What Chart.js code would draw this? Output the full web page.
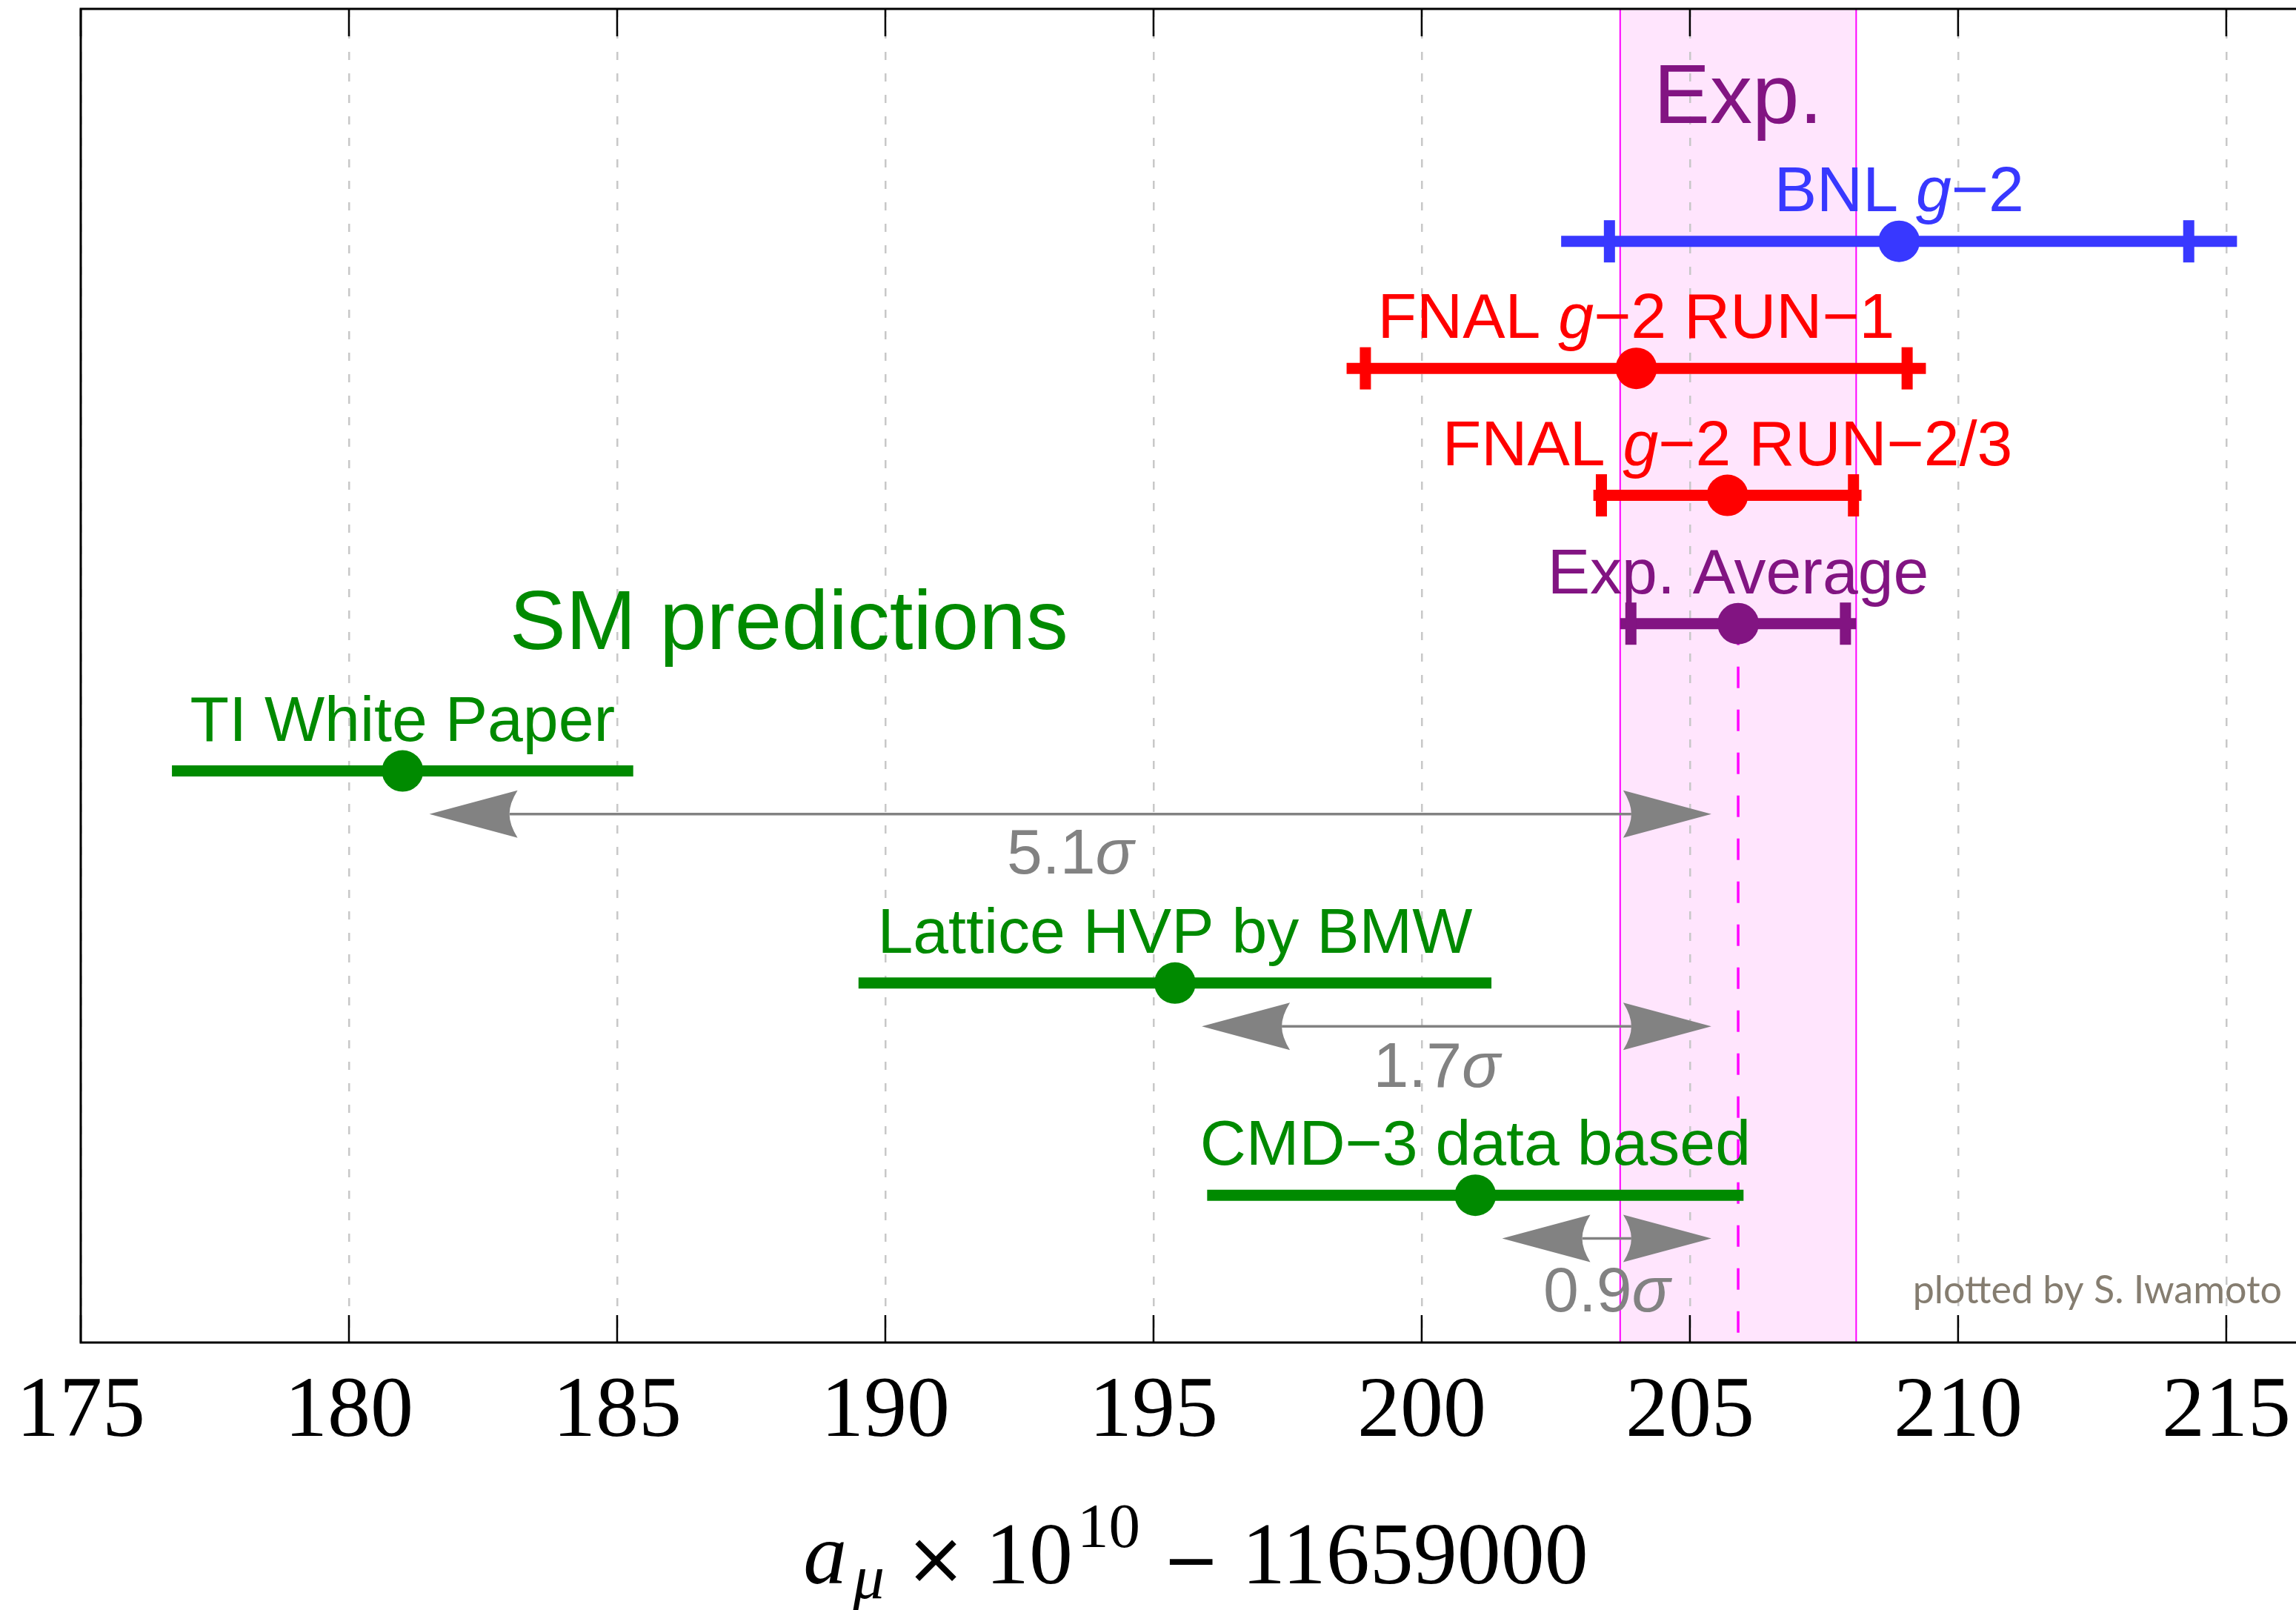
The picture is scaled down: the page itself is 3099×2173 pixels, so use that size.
<!DOCTYPE html>
<html>
<head>
<meta charset="utf-8">
<title>Muon g-2: experiments vs SM predictions</title>
<script src="https://cdn.jsdelivr.net/npm/chart.js@4.4.1/dist/chart.umd.min.js"></script>
<style>
  html, body { margin: 0; padding: 0; background: #fff; }
  #wrap { width: 3099px; height: 2173px; position: relative; }
</style>
</head>
<body>
<div id="wrap"><canvas id="g2Chart"></canvas></div>
<script>
// x axis ticks (a_mu x 10^10 - 11659000)
const xTicks = [175, 180, 185, 190, 195, 200, 205, 210, 215];

// experiments: central value, total error (bar), statistical error (caps)
const expNames = ['BNL g−2', 'FNAL g−2 RUN−1', 'FNAL g−2 RUN−2/3', 'Exp. Average'];
const expValues = [208.9, 204.0, 205.7, 205.9];
const expErrors = [6.3, 5.4, 2.5, 2.2];
const expStatErrors = [5.4, 5.05, 2.35, 2.0];
const expRows = [8.67, 7.67, 6.67, 5.66];

// SM predictions
const smNames = ['TI White Paper', 'Lattice HVP by BMW', 'CMD−3 data based'];
const smValues = [181.0, 195.4, 201.0];
const smErrors = [4.3, 5.9, 5.0];
const smRows = [4.5, 2.83, 1.16];

// tension of each prediction with the exp. average
const tensionLabels = ['5.1σ', '1.7σ', '0.9σ'];

const expColors = ['#3838ff', '#ff0000', '#ff0000', '#821482'];
const smColor = '#008a00';
const greyArrow = '#828282';
const SANS = '"Liberation Sans", Arial, sans-serif';
const SERIF = '"Liberation Serif", "Times New Roman", serif';

const avgValue = expValues[3];
const avgError = expErrors[3];

/**
 * Build datasets: dots, caps, bars and the dashed average line
 */
const datasets = [];

datasets.push({
    data: expValues.map((v, i) => ({ x: v, y: expRows[i] }))
        .concat(smValues.map((v, i) => ({ x: v, y: smRows[i] }))),
    pointRadius: 28,
    pointBorderWidth: 0,
    pointBackgroundColor: expColors.concat(smValues.map(() => smColor)),
    showLine: false,
    order: 0
});

datasets.push({
    data: expValues.flatMap((v, i) => [
        { x: v - expStatErrors[i], y: expRows[i] },
        { x: v + expStatErrors[i], y: expRows[i] }
    ]),
    pointStyle: 'line',
    pointRotation: 90,
    pointRadius: 28.5,
    pointBorderWidth: 15,
    pointBorderColor: expColors.flatMap(c => [c, c]),
    showLine: false,
    order: 1
});

expValues.forEach((v, i) => {
    datasets.push({
        data: [{ x: v - expErrors[i], y: expRows[i] }, { x: v + expErrors[i], y: expRows[i] }],
        showLine: true,
        borderColor: expColors[i],
        borderWidth: 15,
        pointRadius: 0,
        order: 2
    });
});

smValues.forEach((v, i) => {
    datasets.push({
        data: [{ x: v - smErrors[i], y: smRows[i] }, { x: v + smErrors[i], y: smRows[i] }],
        showLine: true,
        borderColor: smColor,
        borderWidth: 15,
        pointRadius: 0,
        order: 2
    });
});

datasets.push({
    data: [{ x: avgValue, y: expRows[3] }, { x: avgValue, y: 0 }],
    showLine: true,
    borderColor: '#ff00ff',
    borderWidth: 3.5,
    borderDash: [29, 29],
    pointRadius: 0,
    order: 3
});

/**
 * Helpers for text with italic / sub / superscript pieces
 */
function toParts(label) {
    return label.split(/(g(?=−)|σ)/).filter(Boolean)
        .map(s => ({ text: s, italic: s === 'g' || s === 'σ' }));
}

function richText(ctx, parts, cx, baseY, size, family, color, align) {
    ctx.save();
    ctx.fillStyle = color;
    ctx.textBaseline = 'alphabetic';
    ctx.textAlign = 'left';
    const fonts = parts.map(p => (p.italic ? 'italic ' : '') + (p.size || size) + 'px ' + (p.family || family));
    let total = 0;
    const widths = parts.map((p, i) => {
        ctx.font = fonts[i];
        const w = ctx.measureText(p.text).width + (p.gap || 0);
        total += w;
        return w;
    });
    let x = align === 'right' ? cx - total : cx - total / 2;
    parts.forEach((p, i) => {
        ctx.font = fonts[i];
        ctx.fillText(p.text, x + (p.gap || 0), baseY + (p.dy || 0));
        x += widths[i];
    });
    ctx.restore();
}

function arrowHead(ctx, tipX, y, dir) {
    // dir = -1 points left, +1 points right
    const len = 119, half = 32, notch = 108;
    const bx = tipX - dir * len;
    const nx = tipX - dir * notch;
    ctx.beginPath();
    ctx.moveTo(tipX, y);
    ctx.lineTo(bx, y - half);
    ctx.quadraticCurveTo(nx, y - half * 0.45, nx, y);
    ctx.quadraticCurveTo(nx, y + half * 0.45, bx, y + half);
    ctx.closePath();
    ctx.fill();
    return nx;
}

const overlayPlugin = {
    id: 'g2Overlay',
    beforeDraw(chart) {
        const { ctx, chartArea: a, scales: { x } } = chart;
        const lo = x.getPixelForValue(avgValue - avgError);
        const hi = x.getPixelForValue(avgValue + avgError);
        ctx.save();
        ctx.fillStyle = '#ffe5fd';
        ctx.fillRect(lo, a.top, hi - lo, a.bottom - a.top);
        ctx.strokeStyle = '#ff00ff';
        ctx.lineWidth = 2;
        ctx.beginPath();
        ctx.moveTo(lo, a.top); ctx.lineTo(lo, a.bottom);
        ctx.moveTo(hi, a.top); ctx.lineTo(hi, a.bottom);
        ctx.stroke();
        ctx.restore();
    },
    afterDatasetsDraw(chart) {
        const { ctx, scales: { x, y } } = chart;

        // tension arrows
        const labelDrop = [80, 82, 99];
        const labelShift = [0, -0.37, 0];
        smValues.forEach((v, i) => {
            const from = v + 0.5;
            const to = avgValue - 0.5;
            const py = y.getPixelForValue(smRows[i] - 0.34);
            const x1 = x.getPixelForValue(from);
            const x2 = x.getPixelForValue(to);
            ctx.save();
            ctx.fillStyle = greyArrow;
            const n1 = arrowHead(ctx, x1, py, -1);
            const n2 = arrowHead(ctx, x2, py, 1);
            ctx.strokeStyle = greyArrow;
            ctx.lineWidth = 3.5;
            ctx.beginPath();
            ctx.moveTo(n1, py);
            ctx.lineTo(n2, py);
            ctx.stroke();
            ctx.restore();
            richText(ctx, toParts(tensionLabels[i]), x.getPixelForValue((from + to) / 2 + labelShift[i]),
                py + labelDrop[i], 86, SANS, greyArrow);
        });

        // row labels
        expNames.forEach((name, i) => {
            richText(ctx, toParts(name), x.getPixelForValue(expValues[i]),
                y.getPixelForValue(expRows[i]) - 41, 86, SANS, expColors[i]);
        });
        smNames.forEach((name, i) => {
            richText(ctx, toParts(name), x.getPixelForValue(smValues[i]),
                y.getPixelForValue(smRows[i]) - 41, 86, SANS, smColor);
        });

        // group headings
        richText(ctx, [{ text: 'Exp.' }], x.getPixelForValue(avgValue), y.getPixelForValue(9.6),
            114, SANS, expColors[3]);
        richText(ctx, [{ text: 'SM predictions' }], x.getPixelForValue(188.2), y.getPixelForValue(5.46),
            114, SANS, smColor);
    },
    afterDraw(chart) {
        const { ctx, chartArea: a, scales: { x } } = chart;
        ctx.save();
        // frame (right edge falls outside the picture)
        ctx.strokeStyle = '#000';
        ctx.lineWidth = 3;
        ctx.beginPath();
        ctx.moveTo(a.right + 5, a.top);
        ctx.lineTo(a.left, a.top);
        ctx.lineTo(a.left, a.bottom);
        ctx.lineTo(a.right + 5, a.bottom);
        ctx.stroke();
        // inward ticks, top and bottom
        ctx.lineWidth = 2.5;
        ctx.beginPath();
        xTicks.forEach(v => {
            const px = x.getPixelForValue(v);
            ctx.moveTo(px, a.bottom); ctx.lineTo(px, a.bottom - 37);
            ctx.moveTo(px, a.top); ctx.lineTo(px, a.top + 37);
        });
        ctx.stroke();
        ctx.restore();

        // axis title
        const OPS = '"DejaVu Sans", sans-serif';
        richText(ctx, [
            { text: 'a', italic: true },
            { text: 'μ', italic: true, size: 85, dy: 20, gap: 8 },
            { text: '×', family: OPS, size: 98, gap: 28 },
            { text: '10', gap: 26 },
            { text: '10', size: 85, dy: -49, gap: 6 },
            { text: '−', family: OPS, size: 92, gap: 30 },
            { text: '11659000', gap: 30 }
        ], (a.left + a.right) / 2 + 10, a.bottom + 325, 118, SERIF, '#000');

        // credit
        richText(ctx, [{ text: 'plotted by S. Iwamoto' }], a.right - 19, a.bottom - 53,
            52, 'Lato, "Open Sans", sans-serif', '#857d70', 'right');
    }
};

new Chart(document.getElementById('g2Chart'), {
    type: 'scatter',
    data: { datasets: datasets },
    options: {
        responsive: true,
        maintainAspectRatio: false,
        animation: false,
        devicePixelRatio: 1,
        events: [],
        layout: { autoPadding: false, padding: { left: 109, top: 12, right: 0, bottom: 0 } },
        plugins: {
            legend: { display: false },
            tooltip: { enabled: false }
        },
        scales: {
            x: {
                type: 'linear',
                min: 175,
                max: 216.3,
                afterBuildTicks: scale => {
                    scale.ticks = xTicks.map(v => ({ value: v }));
                },
                afterFit: scale => {
                    scale.height = 361;
                    scale.paddingLeft = 0;
                    scale.paddingRight = 0;
                },
                grid: {
                    color: '#c8c8c8',
                    lineWidth: 2.5,
                    drawTicks: false
                },
                border: { display: false, dash: [11, 18] },
                ticks: {
                    color: '#000',
                    padding: 26,
                    maxRotation: 0,
                    autoSkip: false,
                    font: { family: SERIF, size: 116 }
                }
            },
            y: {
                type: 'linear',
                min: 0,
                max: 10.5,
                display: false
            }
        }
    },
    plugins: [overlayPlugin]
});
</script>
</body>
</html>
